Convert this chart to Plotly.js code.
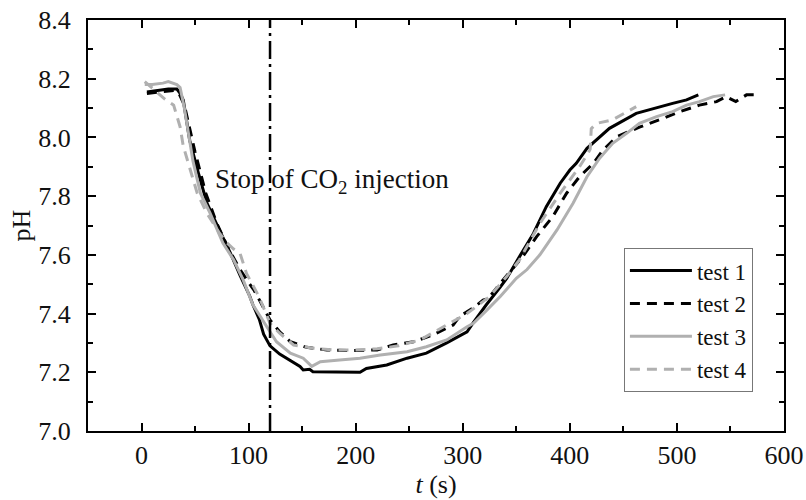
<!DOCTYPE html>
<html>
<head>
<meta charset="utf-8">
<script src="https://cdn.plot.ly/plotly-3.0.1.min.js"></script>
<style>html,body{margin:0;padding:0;background:#fff;}#chart{width:806px;height:500px;}</style>
</head>
<body>
<div id="chart"></div>
<script>
// ---- data ----
var seriesNames = ["test 1", "test 2", "test 3", "test 4"];

var t1x = [5, 15, 25, 33, 36, 39, 45, 53, 61, 72, 83, 92, 101, 104, 110, 114, 120, 129, 139, 148, 151, 157, 160, 180, 204, 210, 229, 248, 266, 285, 304, 310, 322, 335, 341, 353, 366, 378, 391, 400, 406, 416, 437, 462, 484, 496, 509, 520];
var t1y = [8.155, 8.16, 8.165, 8.165, 8.15, 8.127, 7.99, 7.88, 7.777, 7.69, 7.606, 7.53, 7.46, 7.43, 7.38, 7.33, 7.29, 7.262, 7.24, 7.22, 7.208, 7.21, 7.202, 7.20, 7.20, 7.213, 7.225, 7.248, 7.265, 7.30, 7.338, 7.37, 7.43, 7.49, 7.52, 7.594, 7.673, 7.764, 7.844, 7.889, 7.912, 7.963, 8.031, 8.082, 8.105, 8.116, 8.128, 8.145];

var t2x = [5, 20, 30, 35, 40, 45, 50, 60, 70, 80, 92, 101, 105, 111, 120, 129, 139, 154, 173, 198, 220, 235, 254, 272, 291, 297, 310, 319, 324, 335, 356, 369, 384, 397, 409, 422, 431, 444, 465, 487, 503, 521, 537, 546, 555, 565, 575];
var t2y = [8.15, 8.155, 8.16, 8.15, 8.11, 8.03, 7.95, 7.81, 7.71, 7.63, 7.55, 7.50, 7.48, 7.44, 7.378, 7.338, 7.304, 7.285, 7.276, 7.274, 7.276, 7.293, 7.304, 7.327, 7.361, 7.39, 7.42, 7.446, 7.452, 7.503, 7.594, 7.662, 7.73, 7.81, 7.866, 7.912, 7.957, 8.003, 8.035, 8.065, 8.088, 8.11, 8.122, 8.139, 8.122, 8.145, 8.145];

var t3x = [3, 10, 20, 25, 33, 36, 40, 48, 55, 64, 76, 86, 95, 104, 117, 126, 139, 151, 159, 167, 185, 204, 223, 248, 266, 285, 304, 310, 322, 335, 350, 360, 372, 388, 403, 416, 428, 440, 453, 465, 481, 496, 509, 521, 534, 545];
var t3y = [8.18, 8.18, 8.185, 8.19, 8.18, 8.17, 8.10, 7.92, 7.81, 7.742, 7.64, 7.583, 7.514, 7.43, 7.355, 7.304, 7.265, 7.248, 7.22, 7.236, 7.242, 7.248, 7.259, 7.27, 7.287, 7.31, 7.355, 7.367, 7.41, 7.458, 7.52, 7.55, 7.60, 7.685, 7.776, 7.866, 7.93, 7.98, 8.014, 8.048, 8.071, 8.088, 8.11, 8.122, 8.139, 8.145];

var t4x = [3, 12, 22, 30, 36, 39, 45, 52, 61, 73, 80, 86, 92, 98, 108, 111, 120, 129, 142, 160, 179, 200, 220, 240, 260, 285, 304, 325, 341, 353, 360, 372, 391, 409, 417, 419, 420, 425, 440, 453, 462];
var t4y = [8.19, 8.16, 8.13, 8.11, 8.036, 7.97, 7.90, 7.81, 7.742, 7.673, 7.64, 7.62, 7.605, 7.537, 7.469, 7.446, 7.367, 7.333, 7.293, 7.282, 7.276, 7.276, 7.28, 7.29, 7.31, 7.361, 7.40, 7.458, 7.526, 7.583, 7.628, 7.707, 7.81, 7.90, 7.946, 7.96, 8.03, 8.048, 8.06, 8.088, 8.105];

var stopTime = 120;
var annotationText = "Stop of CO<sub>2</sub> injection";
var xTickVals = [0, 100, 200, 300, 400, 500, 600];
var yTickVals = [7.0, 7.2, 7.4, 7.6, 7.8, 8.0, 8.2, 8.4];

// ---- styles ----
var FONT = "Liberation Serif, Times New Roman, serif";
var FS = 26;
var dashPat = "10px,7px";
var styles = [
  {color: "#000000", dash: "solid"},
  {color: "#000000", dash: dashPat},
  {color: "#b0b0b0", dash: "solid"},
  {color: "#b0b0b0", dash: dashPat}
];
var xs = [t1x, t2x, t3x, t4x];
var ys = [t1y, t2y, t3y, t4y];

var traces = [];
for (var i = 0; i < 4; i++) {
  traces.push({
    x: xs[i], y: ys[i], name: seriesNames[i], type: "scatter", mode: "lines",
    line: {color: styles[i].color, dash: styles[i].dash, width: 3}
  });
}

var axisCommon = {
  showline: true, linecolor: "#000", linewidth: 2, mirror: "ticks",
  ticks: "inside", ticklen: 8, tickwidth: 2, tickcolor: "#000",
  showgrid: false, zeroline: false,
  tickfont: {family: FONT, size: FS, color: "#111"}
};

var layout = {
  width: 806, height: 500,
  margin: {l: 88, r: 22, t: 20, b: 69},
  paper_bgcolor: "#fff", plot_bgcolor: "#fff",
  font: {family: FONT, size: FS, color: "#111"},
  xaxis: Object.assign({}, axisCommon, {
    range: [-50, 600], tickvals: xTickVals, ticklabelstandoff: 0,
    minor: {dtick: 50, tick0: 0, ticks: "inside", ticklen: 5, tickwidth: 2, tickcolor: "#000"},
    title: {text: "<i>t</i> (s)", font: {family: FONT, size: FS, color: "#111"}, standoff: 0}
  }),
  yaxis: Object.assign({}, axisCommon, {
    range: [7.0, 8.4], tickvals: yTickVals, tickformat: ".1f",
    minor: {dtick: 0.1, tick0: 7.0, ticks: "inside", ticklen: 5, tickwidth: 2, tickcolor: "#000"},
    title: {text: "pH", font: {family: FONT, size: FS, color: "#111"}, standoff: 0},
    ticklabelstandoff: 10
  }),
  legend: {
    x: 0.770, y: 0.445, xanchor: "left", yanchor: "top",
    bgcolor: "#fff", bordercolor: "#777", borderwidth: 1,
    font: {family: FONT, size: 23, color: "#111"},
    itemwidth: 62, tracegroupgap: 0
  },
  shapes: [{
    type: "line", xref: "x", yref: "paper", x0: stopTime, x1: stopTime, y0: 0, y1: 1,
    line: {color: "#000", width: 2.5, dash: "18px,5px,3px,5px"}
  }],
  annotations: [{
    xref: "x", yref: "y", x: 67, y: 7.85, xanchor: "left", yanchor: "middle",
    text: annotationText, showarrow: false,
    font: {family: FONT, size: 27, color: "#111"}, bgcolor: "rgba(0,0,0,0)"
  }],
  showlegend: true
};

Plotly.newPlot("chart", traces, layout, {staticPlot: true, displayModeBar: false});
</script>
</body>
</html>
